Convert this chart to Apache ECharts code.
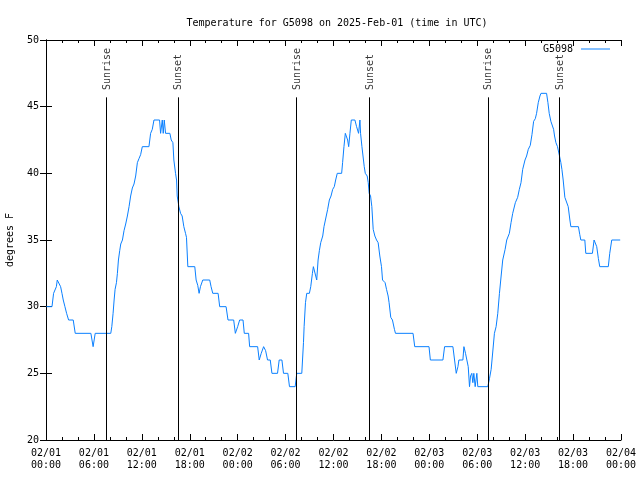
<!DOCTYPE html>
<html><head><meta charset="utf-8">
<script src="https://cdn.jsdelivr.net/npm/echarts@6/dist/echarts.min.js"></script>
<style>html,body{margin:0;padding:0;background:#fff}#c{width:640px;height:480px}</style>
</head><body><div id="c"></div>
<script>
// hours since 2025-02-01 00:00 UTC
const hours = [0.05,0.75,0.85,0.95,1.2,1.3,1.41,1.66,1.83,2.0,2.16,2.37,2.58,2.83,3.41,3.66,5.62,5.9,6.16,8.11,
8.24,8.4,8.53,8.65,8.82,8.94,9.07,9.23,9.36,9.57,9.77,9.98,10.19,10.4,10.6,10.81,11.02,11.23,11.44,11.64,11.85,12.06,12.89,13.1,13.31,13.52,14.22,14.35,14.56,14.68,14.81,14.97,15.51,15.68,15.89,16.01,16.22,16.35,16.43,16.64,16.85,17.05,17.26,17.47,17.59,17.76,18.63,18.8,19.0,19.17,19.34,19.63,20.5,20.67,20.88,21.55,21.75,22.55,22.79,23.5,23.71,24.0,24.25,24.67,24.83,25.37,25.5,26.5,26.7,26.95,27.25,27.5,27.74,28.08,28.29,28.99,29.2,29.54,29.74,30.28,30.49,31.2,31.4,32.03,
32.24,32.32,32.49,32.65,32.98,33.15,33.36,33.48,33.73,33.9,34.07,34.23,34.4,34.65,34.81,35.06,35.27,35.48,35.69,35.9,36.1,36.27,36.47,37.02,37.14,37.31,37.48,37.77,37.9,38.06,38.23,38.68,38.89,39.14,39.31,39.39,39.56,39.72,39.85,39.98,40.22,40.35,40.47,40.64,40.8,40.97,41.18,41.39,41.59,41.8,42.01,42.14,42.46,42.64,42.84,42.96,43.17,43.38,43.63,43.76,45.96,46.17,47.96,48.13,49.7,49.91,50.95,51.16,51.37,51.58,51.7,52.2,52.33,52.53,52.7,52.87,53.03,53.16,53.32,53.45,53.57,53.74,53.95,54.07,55.32,
55.53,55.74,55.94,56.15,56.36,56.57,56.78,56.99,57.19,57.49,57.69,58.02,58.23,58.44,58.77,59.06,59.27,59.48,59.69,59.98,60.18,60.39,60.64,60.85,61.06,61.27,61.43,61.64,61.85,61.98,62.68,62.85,63.01,63.22,63.43,63.56,63.68,63.85,64.05,64.3,64.47,64.6,64.76,64.97,65.39,65.6,65.72,66.67,66.84,66.97,67.47,67.59,68.42,68.63,68.84,68.96,69.17,69.34,70.41,70.59,70.84,71.9];
const temps = [30,30,30.5,31,31,31.5,32,32,31.5,31,30.5,30,29.5,29,29,28,28,27,28,28,
28.5,29.5,30.5,31.3,31.8,32.5,33.5,34.2,34.7,35,35.7,36.2,36.8,37.5,38.3,38.9,39.2,39.8,40.8,41.1,41.4,42,42,43,43.3,44,44,43,44,43,44,43,43,42.5,42.3,41,40,39.5,38.3,37.5,37,36.8,36,35.5,35.2,33,33,32,31.6,31,31.5,32,32,31.5,31,31,30,30,29,29,28,28.5,29,29,28,28,27,27,26,26.5,27,26.7,26,26,25,25,26,26,25,25,24,24,25,25,
27.3,28.5,30.3,31,31,31.5,32.5,33,33,32,33.5,34.2,34.8,35.3,36,36,37.3,38,38.3,38.8,39,39.5,40,40,40.8,42,43,42.5,42,43,44,44,43.5,43,44,43,42,42,40.5,40,39.8,39.3,38.5,38.3,37.5,35.8,35.3,35,34.8,33.8,33,32,31.8,31.3,30.8,30.3,29.2,29,28.3,28,28,27,27,26,26,27,27,26,25,25.5,26,26,27,26.5,26,25.5,24,24.8,25,24.3,25,24,25,24,24,
24.6,25.3,26.6,28,28.5,29.5,31,32.3,33.5,34.3,35,35.5,36.3,37,37.8,38.2,38.8,39.3,40.3,41,41.3,41.8,42.1,42.9,43.9,44.1,44.5,45.3,45.8,46,46,45.3,44.5,43.9,43.8,43.3,42.8,42.3,42,41.3,40.8,40.3,39.5,38.2,37.5,36.5,36,36,35.4,35,35,34,34,35,35,34.5,33.6,33,33,34,35,35];
const sunNames = ['Sunrise','Sunset','Sunrise','Sunset','Sunrise','Sunset'];
const sunHours = [7.52,16.51,31.36,40.47,55.32,64.3];
const xTickLabels = ['02/01\n00:00','02/01\n06:00','02/01\n12:00','02/01\n18:00','02/02\n00:00','02/02\n06:00','02/02\n12:00','02/02\n18:00','02/03\n00:00','02/03\n06:00','02/03\n12:00','02/03\n18:00','02/04\n00:00'];
const sunLineTop = 45.7;
const sunLabelY = 46.25;

const mono = 'DejaVu Sans Mono';
const chart = echarts.init(document.getElementById('c'), null, {renderer:'canvas'});
const axLine = {lineStyle:{color:'#000',width:1}};
const xBase = {type:'value',min:0,max:72,interval:6,axisLine:axLine,
  axisTick:{inside:true,length:6,lineStyle:{color:'#000'}},
  minorTick:{show:true,splitNumber:3,length:3,lineStyle:{color:'#000'}},
  splitLine:{show:false}};
const yBase = {type:'value',min:20,max:50,interval:5,axisLine:axLine,
  axisTick:{inside:true,length:6,lineStyle:{color:'#000'}},splitLine:{show:false}};
chart.setOption({
  animation:false,
  backgroundColor:'#fff',
  title:{text:'Temperature for G5098 on 2025-Feb-01 (time in UTC)',left:332,textAlign:'center',top:13,
    textStyle:{fontFamily:mono,fontSize:10,fontWeight:'normal',color:'#000'}},
  grid:{left:46,right:19,top:40,bottom:40,containLabel:false,outerBoundsMode:'none'},
  legend:{data:['G5098'],right:30,top:44,padding:0,icon:'rect',itemWidth:29,itemHeight:1,align:'right',itemGap:4,
    textStyle:{fontFamily:mono,fontSize:10,color:'#000',padding:[0,3,0,0]}},
  xAxis:[
    Object.assign({},xBase,{position:'bottom',axisLabel:{fontFamily:mono,fontSize:10,color:'#000',lineHeight:12,margin:7,
      formatter:v=>xTickLabels[Math.round(v/6)]}}),
    Object.assign({},xBase,{position:'top',axisLabel:{show:false}})
  ],
  yAxis:[
    Object.assign({},yBase,{position:'left',name:'degrees F',nameLocation:'middle',nameGap:31,nameRotate:90,
      nameTextStyle:{fontFamily:mono,fontSize:10,color:'#000'},
      axisLabel:{fontFamily:mono,fontSize:10,color:'#000',margin:7}}),
    Object.assign({},yBase,{position:'right',axisLabel:{show:false}})
  ],
  series:[
    {name:'G5098',type:'line',data:hours.map((h,i)=>[h,temps[i]]),showSymbol:false,symbol:'none',
     lineStyle:{color:'#0a80ff',width:1},itemStyle:{color:'#0a80ff'},z:3,
     markLine:{silent:true,symbol:['none','none'],label:{show:false},
       lineStyle:{color:'#000',width:1,type:'solid'},
       data:sunHours.map(t=>[{coord:[t,20]},{coord:[t,sunLineTop]}])}},
    {name:'sun',type:'scatter',symbolSize:0,silent:true,
     data:sunHours.map((t,i)=>({value:[t,sunLabelY],name:sunNames[i]})),
     label:{show:true,formatter:p=>p.name,position:[1,0],rotate:90,align:'left',verticalAlign:'middle',
       fontFamily:mono,fontSize:10,color:'#000'}}
  ]
});
</script></body></html>
